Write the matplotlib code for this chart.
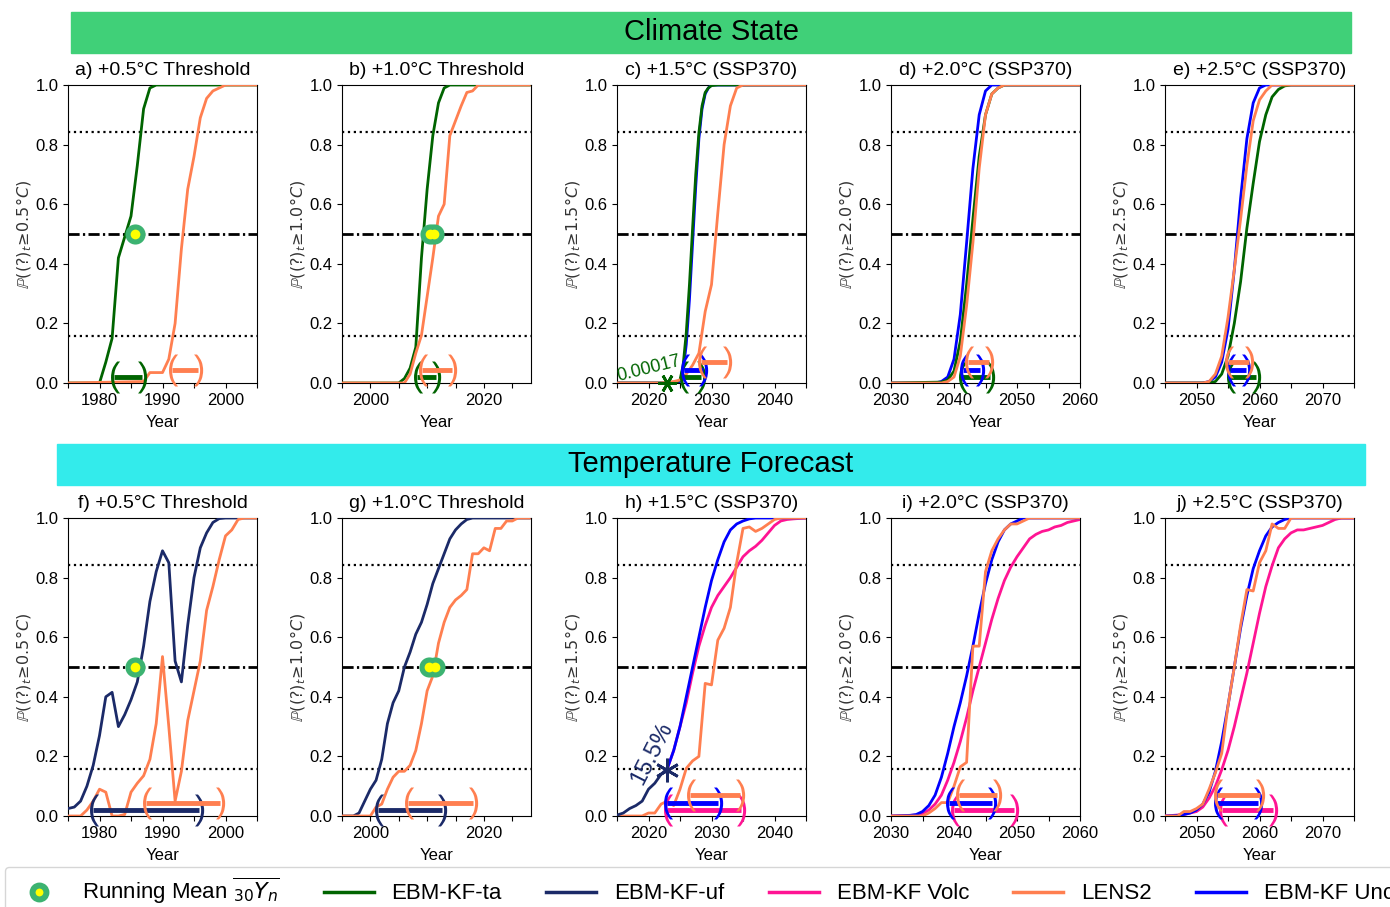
import numpy as np
import matplotlib
matplotlib.use("Agg")
import matplotlib.pyplot as plt
from matplotlib.patches import Rectangle
from matplotlib.lines import Line2D
from matplotlib.path import Path
from matplotlib.textpath import TextPath
from matplotlib.font_manager import FontProperties

plt.rcParams["font.family"] = ["Liberation Sans", "DejaVu Sans"]

W, H = 1390, 907

C_TA = "darkgreen"
C_UF = "#1b2a68"
C_VOLC = "deeppink"
C_LENS = "coral"
C_UNC = "blue"

# ---------------- Climate State (top row) ----------------
a_ta_yr = [1975, 1980, 1981, 1982, 1983, 1984, 1985, 1986, 1987, 1988, 1989, 2005]
a_ta_p = [0, 0, 0.07, 0.15, 0.42, 0.49, 0.56, 0.73, 0.92, 0.99, 1, 1]
a_lens_yr = [1975, 1987, 1988, 1989, 1990, 1991, 1992, 1993, 1994, 1995, 1996, 1997, 1998, 1999, 2000, 2005]
a_lens_p = [0, 0.005, 0.035, 0.035, 0.035, 0.08, 0.2, 0.45, 0.65, 0.76, 0.89, 0.955, 0.98, 0.99, 1, 1]

b_ta_yr = [1995, 2005, 2006, 2007, 2008, 2009, 2010, 2011, 2012, 2013, 2014, 2028]
b_ta_p = [0, 0, 0.015, 0.05, 0.12, 0.42, 0.65, 0.83, 0.94, 0.99, 1, 1]
b_lens_yr = [1995, 2006, 2007, 2008, 2009, 2010, 2011, 2012, 2013, 2014, 2015, 2016, 2017, 2018, 2019, 2028]
b_lens_p = [0, 0, 0.03, 0.1, 0.16, 0.29, 0.42, 0.56, 0.6, 0.83, 0.88, 0.93, 0.975, 0.98, 1, 1]

c_unc_yr = [2015, 2024.5, 2025, 2025.5, 2026, 2026.5, 2027, 2027.5, 2028, 2028.5, 2029, 2029.5, 2030, 2045]
c_unc_p = [0, 0, 0.005, 0.04, 0.13, 0.28, 0.47, 0.66, 0.82, 0.92, 0.97, 0.99, 1, 1]
c_ta_yr = [2015, 2024, 2024.5, 2025, 2025.5, 2026, 2026.5, 2027, 2027.5, 2028, 2028.5, 2029, 2029.5, 2030, 2031, 2045]
c_ta_p = [0, 0, 0.003, 0.01, 0.06, 0.17, 0.33, 0.52, 0.70, 0.84, 0.93, 0.975, 0.99, 0.998, 1, 1]
c_lens_yr = [2015, 2022, 2023, 2024, 2025, 2026, 2027, 2028, 2029, 2030, 2031, 2032, 2033, 2034, 2035, 2045]
c_lens_p = [0, 0, 0.003, 0.005, 0.01, 0.03, 0.06, 0.1, 0.24, 0.33, 0.57, 0.8, 0.93, 0.99, 1, 1]
c_star_yr, c_star_p = 2023, 0.00017

d_unc_yr = [2030, 2037, 2038, 2039, 2040, 2041, 2042, 2043, 2044, 2045, 2046, 2060]
d_unc_p = [0, 0, 0.005, 0.02, 0.08, 0.23, 0.47, 0.72, 0.9, 0.98, 1, 1]
d_ta_yr = [2030, 2038, 2039, 2040, 2041, 2042, 2043, 2044, 2045, 2046, 2047, 2048, 2060]
d_ta_p = [0, 0.003, 0.01, 0.04, 0.14, 0.33, 0.55, 0.76, 0.9, 0.97, 0.99, 1, 1]
d_lens_yr = [2030, 2038, 2039, 2040, 2041, 2042, 2043, 2044, 2045, 2046, 2047, 2048, 2060]
d_lens_p = [0, 0, 0.005, 0.02, 0.09, 0.26, 0.47, 0.72, 0.9, 0.97, 0.99, 1, 1]

e_unc_yr = [2045, 2051, 2052, 2053, 2054, 2055, 2056, 2057, 2058, 2059, 2060, 2061, 2075]
e_unc_p = [0, 0, 0.005, 0.02, 0.07, 0.18, 0.38, 0.62, 0.82, 0.94, 0.99, 1, 1]
e_ta_yr = [2045, 2052, 2053, 2054, 2055, 2056, 2057, 2058, 2059, 2060, 2061, 2062, 2063, 2064, 2065, 2075]
e_ta_p = [0, 0, 0.005, 0.03, 0.09, 0.2, 0.34, 0.52, 0.67, 0.81, 0.9, 0.96, 0.985, 0.997, 1, 1]
e_lens_yr = [2045, 2051, 2052, 2053, 2054, 2055, 2056, 2057, 2058, 2059, 2060, 2061, 2062, 2075]
e_lens_p = [0, 0, 0.005, 0.03, 0.09, 0.22, 0.38, 0.55, 0.73, 0.88, 0.95, 0.98, 1, 1]

# ---------------- Temperature Forecast (bottom row) ----------------
f_uf_yr = list(range(1975, 2001)) + [2005]
f_uf_p = [0.025, 0.03, 0.05, 0.1, 0.17, 0.27, 0.40, 0.415, 0.30, 0.34, 0.39, 0.45, 0.57,
          0.72, 0.82, 0.89, 0.85, 0.52, 0.45, 0.64, 0.80, 0.90, 0.95, 0.985, 0.998, 1.0, 1.0]
f_lens_yr = list(range(1975, 2004)) + [2005]
f_lens_p = [0, 0, 0, 0.02, 0.05, 0.09, 0.08, 0.0, 0.0, 0.005, 0.08, 0.11, 0.135, 0.19, 0.31,
            0.535, 0.30, 0.05, 0.15, 0.32, 0.42, 0.52, 0.69, 0.77, 0.86, 0.94, 0.96, 0.995, 1.0, 1.0]

g_uf_yr = [1995, 1997] + list(range(1998, 2019)) + [2028]
g_uf_p = [0, 0, 0.01, 0.05, 0.09, 0.12, 0.19, 0.31, 0.38, 0.42, 0.5, 0.55, 0.61, 0.65, 0.71,
          0.78, 0.83, 0.88, 0.93, 0.96, 0.98, 0.995, 1, 1]
g_lens_yr = [1995] + list(range(2000, 2027)) + [2028]
g_lens_p = [0, 0, 0.03, 0.04, 0.09, 0.13, 0.15, 0.15, 0.17, 0.22, 0.31, 0.42, 0.47, 0.58, 0.65,
            0.70, 0.725, 0.74, 0.76, 0.88, 0.88, 0.9, 0.89, 0.965, 0.965, 0.99, 0.99, 1.0, 1.0]

h_uf_yr = list(range(2015, 2024))
h_uf_p = [0.003, 0.01, 0.025, 0.035, 0.05, 0.09, 0.11, 0.14, 0.16]
h_volc_yr = list(range(2023, 2044)) + [2045]
h_volc_p = [0.16, 0.22, 0.3, 0.38, 0.48, 0.57, 0.64, 0.70, 0.74, 0.77, 0.80, 0.835, 0.87,
            0.89, 0.905, 0.925, 0.95, 0.975, 0.99, 0.995, 0.997, 1.0]
h_unc_yr = list(range(2023, 2038)) + [2045]
h_unc_p = [0.16, 0.22, 0.3, 0.4, 0.5, 0.6, 0.7, 0.79, 0.86, 0.92, 0.96, 0.98, 0.99, 0.997, 1, 1]
h_lens_yr = [2015, 2019] + list(range(2020, 2042)) + [2045]
h_lens_p = [0, 0, 0.01, 0.01, 0.04, 0.05, 0.035, 0.09, 0.16, 0.185, 0.2, 0.445, 0.44, 0.59,
            0.63, 0.7, 0.85, 0.965, 0.97, 0.955, 0.965, 0.98, 0.995, 1, 1]
h_star_yr, h_star_p = 2023, 0.155

i_volc_yr = [2030] + list(range(2034, 2061))
i_volc_p = [0, 0.003, 0.008, 0.02, 0.04, 0.07, 0.12, 0.18, 0.25, 0.33, 0.42, 0.5, 0.58, 0.66,
            0.73, 0.79, 0.835, 0.87, 0.9, 0.93, 0.945, 0.955, 0.96, 0.97, 0.975, 0.985, 0.99, 0.995]
i_unc_yr = [2030, 2033] + list(range(2034, 2052)) + [2060]
i_unc_p = [0, 0.002, 0.005, 0.015, 0.035, 0.07, 0.13, 0.21, 0.3, 0.38, 0.47, 0.57, 0.68, 0.78,
           0.86, 0.92, 0.96, 0.98, 0.99, 1, 1]
i_lens_yr = [2030, 2035] + list(range(2036, 2053)) + [2060]
i_lens_p = [0, 0, 0.01, 0.025, 0.045, 0.045, 0.1, 0.165, 0.18, 0.57, 0.57, 0.82, 0.89, 0.93,
            0.96, 0.98, 0.98, 0.99, 1.0, 1.0]

j_volc_yr = [2045, 2048, 2050] + list(range(2051, 2074)) + [2075]
j_volc_p = [0, 0.005, 0.015, 0.03, 0.06, 0.1, 0.155, 0.22, 0.3, 0.39, 0.48, 0.58, 0.68, 0.77,
            0.84, 0.9, 0.93, 0.95, 0.96, 0.96, 0.965, 0.97, 0.975, 0.985, 0.995, 1.0, 1.0]
j_unc_yr = [2045, 2047] + list(range(2048, 2066)) + [2075]
j_unc_p = [0, 0.002, 0.005, 0.01, 0.02, 0.04, 0.08, 0.15, 0.25, 0.37, 0.5, 0.63, 0.74, 0.83,
           0.89, 0.94, 0.97, 0.985, 0.995, 1.0, 1.0]
j_lens_yr = [2045] + list(range(2047, 2066)) + [2075]
j_lens_p = [0, 0, 0.015, 0.015, 0.025, 0.04, 0.09, 0.145, 0.21, 0.37, 0.5, 0.64, 0.76, 0.755,
            0.85, 0.89, 0.98, 0.965, 0.965, 1.0, 1.0]

# running-mean crossing years (30-yr mean hits threshold)
a_rm_yr = [1985.7]
b_rm_yr = [2010.45, 2011.15]
f_rm_yr = [1985.7]
g_rm_yr = [2010.4, 2011.4]

# crossing intervals (lo, hi), stacked bottom -> top
a_int = [(1982.3, 1986.7), (1991.5, 1995.7)]
b_int = [(2008.3, 2011.5), (2009.1, 2014.3)]
c_int = [(2025.5, 2028.4), (2025.7, 2028.7), (2028.3, 2032.4)]
d_int = [(2041.2, 2045.7), (2041.4, 2044.2), (2042.3, 2045.6)]
e_int = [(2055.3, 2059.5), (2055.3, 2057.9), (2055.0, 2058.3)]
f_int = [(1979.0, 1995.8), (1987.4, 1999.1)]
g_int = [(2001.3, 2012.7), (2006.6, 2018.0)]
h_int = [(2022.9, 2034.7), (2022.9, 2031.0), (2026.6, 2034.6)]
i_int = [(2040.0, 2049.6), (2039.2, 2046.1), (2040.8, 2046.8)]
j_int = [(2054.1, 2062.2), (2053.3, 2059.7), (2053.3, 2060.0)]
bar_levels = [0.02, 0.045, 0.07]

legend_labels = [r"Running Mean $\overline{_{30}Y_n}$", "EBM-KF-ta", "EBM-KF-uf",
                 "EBM-KF Volc", "LENS2", "EBM-KF Unc"]


def paren_marker(ch):
    # Liberation Sans glyph as a centred marker path
    tp = TextPath((0, 0), ch, size=1, prop=FontProperties(family="Liberation Sans"))
    v = tp.vertices
    centre = (v.min(axis=0) + v.max(axis=0)) / 2
    return Path(v - centre, tp.codes)


PAREN_L = paren_marker("(")
PAREN_R = paren_marker(")")


def style_axis(ax, title, xlim, labelled, thresh):
    ax.set_xlim(*xlim)
    ax.set_ylim(0, 1)
    ax.set_xticks(labelled)
    ax.set_xticks(np.arange(xlim[0], xlim[1] + 0.01, 5), minor=True)
    ax.tick_params(which="both", length=3.5, width=0.8, labelsize=12)
    ax.set_yticks(np.arange(0, 1.01, 0.2))
    ax.set_title(title, fontsize=14, pad=7)
    ax.set_xlabel("Year", fontsize=12, labelpad=5)
    ax.set_ylabel(r"$\mathbb{P}((?)_t\!\geq\! %s°C)$" % thresh, fontsize=11.5,
                  labelpad=1, color="#333333")
    ax.axhline(0.841, color="k", ls=":", lw=1.6, zorder=1)
    ax.axhline(0.159, color="k", ls=":", lw=1.6, zorder=1)
    ax.axhline(0.5, color="k", ls=(0, (4, 1.2, 0.8, 1.2)), lw=2, zorder=1)


def draw_intervals(ax, intervals, colors):
    for (lo, hi), col, lev in zip(intervals, colors, bar_levels):
        ax.plot([lo, hi], [lev, lev], color=col, lw=3.5, solid_capstyle="butt", zorder=4)
        ax.plot([lo], [lev], marker=PAREN_L, ms=23, color=col, mew=0, ls="none",
                clip_on=False, zorder=4)
        ax.plot([hi], [lev], marker=PAREN_R, ms=23, color=col, mew=0, ls="none",
                clip_on=False, zorder=4)


def draw_running_mean(ax, years):
    # green rims first, yellow centres on top, so overlapping points merge
    ys = [0.5] * len(years)
    ax.plot(years, ys, ls="none", marker="o", ms=14.5, mfc="mediumseagreen", mew=0, zorder=6)
    ax.plot(years, ys, ls="none", marker="o", ms=7, mfc="yellow", mew=0, zorder=7)


fig = plt.figure(figsize=(W / 100, H / 100), dpi=100)

lefts = [68, 342, 617, 891, 1165]
aw, ah = 189, 298


def make_ax(col, top):
    return fig.add_axes([lefts[col] / W, 1 - (top + ah) / H, aw / W, ah / H])


# banners
fig.add_artist(Rectangle((71 / W, 1 - 53 / H), (1351 - 71) / W, 41 / H,
                         transform=fig.transFigure, color="#40d078", zorder=0))
fig.text(711 / W, 1 - 32 / H, "Climate State", ha="center", va="center", fontsize=21)
fig.add_artist(Rectangle((57 / W, 1 - 485 / H), (1365 - 57) / W, 41 / H,
                         transform=fig.transFigure, color="#33ebeb", zorder=0))
fig.text(711 / W, 1 - 464 / H, "Temperature Forecast", ha="center", va="center", fontsize=21)

LW = 2

# a
ax = make_ax(0, 85)
style_axis(ax, "a) +0.5°C Threshold", (1975, 2005), [1980, 1990, 2000], "0.5")
ax.plot(a_ta_yr, a_ta_p, color=C_TA, lw=LW, zorder=3)
ax.plot(a_lens_yr, a_lens_p, color=C_LENS, lw=LW, zorder=3)
draw_intervals(ax, a_int, [C_TA, C_LENS])
draw_running_mean(ax, a_rm_yr)

# b
ax = make_ax(1, 85)
style_axis(ax, "b) +1.0°C Threshold", (1995, 2028.3), [2000, 2020], "1.0")
ax.plot(b_ta_yr, b_ta_p, color=C_TA, lw=LW, zorder=3)
ax.plot(b_lens_yr, b_lens_p, color=C_LENS, lw=LW, zorder=3)
draw_intervals(ax, b_int, [C_TA, C_LENS])
draw_running_mean(ax, b_rm_yr)

# c
ax = make_ax(2, 85)
style_axis(ax, "c) +1.5°C (SSP370)", (2015, 2045), [2020, 2030, 2040], "1.5")
ax.plot(c_unc_yr, c_unc_p, color=C_UNC, lw=LW, zorder=3)
ax.plot(c_ta_yr, c_ta_p, color=C_TA, lw=LW, zorder=3)
ax.plot(c_lens_yr, c_lens_p, color=C_LENS, lw=LW, zorder=3)
draw_intervals(ax, c_int, [C_TA, C_UNC, C_LENS])
ax.plot([c_star_yr], [c_star_p], marker=(6, 2, 90), ms=13, mew=2, color=C_TA,
        ls="none", clip_on=False, zorder=6)
ax.text(2015.2, 0.008, "%.5f" % c_star_p, color=C_TA, fontsize=13, rotation=14,
        rotation_mode="anchor", ha="left", va="baseline", zorder=6)

# d
ax = make_ax(3, 85)
style_axis(ax, "d) +2.0°C (SSP370)", (2030, 2060), [2030, 2040, 2050, 2060], "2.0")
ax.plot(d_unc_yr, d_unc_p, color=C_UNC, lw=LW, zorder=3)
ax.plot(d_ta_yr, d_ta_p, color=C_TA, lw=LW, zorder=3)
ax.plot(d_lens_yr, d_lens_p, color=C_LENS, lw=LW, zorder=3)
draw_intervals(ax, d_int, [C_TA, C_UNC, C_LENS])

# e
ax = make_ax(4, 85)
style_axis(ax, "e) +2.5°C (SSP370)", (2045, 2075), [2050, 2060, 2070], "2.5")
ax.plot(e_unc_yr, e_unc_p, color=C_UNC, lw=LW, zorder=3)
ax.plot(e_ta_yr, e_ta_p, color=C_TA, lw=LW, zorder=3)
ax.plot(e_lens_yr, e_lens_p, color=C_LENS, lw=LW, zorder=3)
draw_intervals(ax, e_int, [C_TA, C_UNC, C_LENS])

# f
ax = make_ax(0, 518)
style_axis(ax, "f) +0.5°C Threshold", (1975, 2005), [1980, 1990, 2000], "0.5")
ax.plot(f_uf_yr, f_uf_p, color=C_UF, lw=LW, zorder=3)
ax.plot(f_lens_yr, f_lens_p, color=C_LENS, lw=LW, zorder=3)
draw_intervals(ax, f_int, [C_UF, C_LENS])
draw_running_mean(ax, f_rm_yr)

# g
ax = make_ax(1, 518)
style_axis(ax, "g) +1.0°C Threshold", (1995, 2028.3), [2000, 2020], "1.0")
ax.plot(g_uf_yr, g_uf_p, color=C_UF, lw=LW, zorder=3)
ax.plot(g_lens_yr, g_lens_p, color=C_LENS, lw=LW, zorder=3)
draw_intervals(ax, g_int, [C_UF, C_LENS])
draw_running_mean(ax, g_rm_yr)

# h
ax = make_ax(2, 518)
style_axis(ax, "h) +1.5°C (SSP370)", (2015, 2045), [2020, 2030, 2040], "1.5")
ax.plot(h_volc_yr, h_volc_p, color=C_VOLC, lw=LW, zorder=3)
ax.plot(h_unc_yr, h_unc_p, color=C_UNC, lw=LW, zorder=3)
ax.plot(h_lens_yr, h_lens_p, color=C_LENS, lw=LW, zorder=3)
ax.plot(h_uf_yr, h_uf_p, color=C_UF, lw=LW, zorder=3)
draw_intervals(ax, h_int, [C_VOLC, C_UNC, C_LENS])
ax.plot([h_star_yr], [h_star_p], marker=(6, 2, 0), ms=17, mew=2, color=C_UF,
        ls="none", zorder=6)
ax.text(2019.0, 0.1, "%.1f%%" % (h_star_p * 100), color=C_UF, fontsize=17, rotation=63,
        rotation_mode="anchor", ha="left", va="baseline", zorder=6)

# i
ax = make_ax(3, 518)
style_axis(ax, "i) +2.0°C (SSP370)", (2030, 2060), [2030, 2040, 2050, 2060], "2.0")
ax.plot(i_volc_yr, i_volc_p, color=C_VOLC, lw=LW, zorder=3)
ax.plot(i_unc_yr, i_unc_p, color=C_UNC, lw=LW, zorder=3)
ax.plot(i_lens_yr, i_lens_p, color=C_LENS, lw=LW, zorder=3)
draw_intervals(ax, i_int, [C_VOLC, C_UNC, C_LENS])

# j
ax = make_ax(4, 518)
style_axis(ax, "j) +2.5°C (SSP370)", (2045, 2075), [2050, 2060, 2070], "2.5")
ax.plot(j_volc_yr, j_volc_p, color=C_VOLC, lw=LW, zorder=3)
ax.plot(j_unc_yr, j_unc_p, color=C_UNC, lw=LW, zorder=3)
ax.plot(j_lens_yr, j_lens_p, color=C_LENS, lw=LW, zorder=3)
draw_intervals(ax, j_int, [C_VOLC, C_UNC, C_LENS])

# legend, running off the right edge like the original
handles = [
    Line2D([], [], ls="none", marker="o", ms=10, mfc="yellow", mec="mediumseagreen", mew=4.3),
    Line2D([], [], color=C_TA, lw=2.5),
    Line2D([], [], color=C_UF, lw=2.5),
    Line2D([], [], color=C_VOLC, lw=2.5),
    Line2D([], [], color=C_LENS, lw=2.5),
    Line2D([], [], color=C_UNC, lw=2.5),
]
fig.legend(handles, legend_labels, loc="upper left", bbox_to_anchor=(5 / W, 1 - 867 / H),
           ncol=6, fontsize=16, handlelength=2.25, borderaxespad=0,
           edgecolor="0.8", fancybox=True)

fig.savefig("out.png", dpi=100)
